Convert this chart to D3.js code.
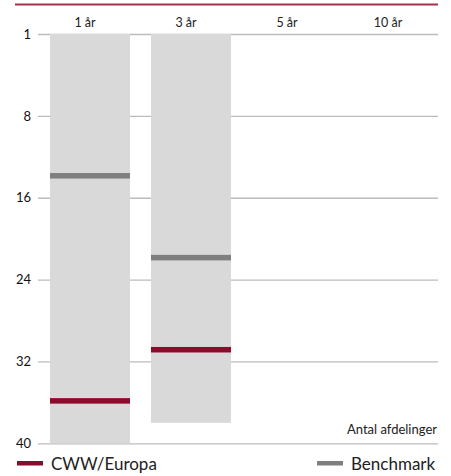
<!DOCTYPE html>
<html>
<head>
<meta charset="utf-8">
<script src="https://cdn.jsdelivr.net/npm/d3@7"></script>
<style>
  html, body { margin: 0; padding: 0; background: #fff; }
  svg { display: block; font-family: Lato, "Open Sans", sans-serif; }
</style>
</head>
<body>
<svg id="chart" width="451" height="476"></svg>
<script>
// Periods shown as columns
const periods = ["1 år", "3 år", "5 år", "10 år"];
// Number of funds in the peer group per period (bar length)
const fundCounts = [40, 38, null, null];
// Rank of CWW/Europa per period
const cwwRanks = [36, 31, null, null];
// Rank of the benchmark per period
const benchmarkRanks = [14, 22, null, null];
// Rank axis tick labels
const rankTicks = [1, 8, 16, 24, 32, 40];

const svg = d3.select("#chart");

const colors = {
  rule: "#a3304a",
  grid: "#bcbcbc",
  bar: "#d9d9d9",
  cww: "#8a0b2b",
  bench: "#7f7f7f",
  text: "#222"
};

// Rank 1 sits on the top edge, the rest of the scale runs evenly to 40
const y = d3.scaleLinear().domain([1, 8, 40]).range([34, 115.9, 443.3]);
const x = d3.scaleBand().domain(periods).range([50, 433]).paddingInner(0.208).paddingOuter(0);

// Top rule
svg.append("line")
  .attr("x1", 15).attr("x2", 438).attr("y1", 4.5).attr("y2", 4.5)
  .attr("stroke", colors.rule).attr("stroke-width", 2);

// Column headers
svg.append("g").selectAll("text").data(periods).join("text")
  .attr("x", d => x(d) + x.bandwidth() / 2 - 5)
  .attr("y", 27)
  .attr("text-anchor", "middle")
  .attr("font-size", 12.5)
  .attr("fill", colors.text)
  .text(d => d);

// Rank axis with gridlines
const axis = d3.axisLeft(y).tickValues(rankTicks).tickSize(0).tickPadding(0);
const gAxis = svg.append("g").attr("transform", "translate(38,0)").call(axis);
gAxis.select(".domain").remove();
gAxis.selectAll(".tick line")
  .attr("x1", 0).attr("x2", 400)
  .attr("stroke", colors.grid).attr("stroke-width", 1.3);
gAxis.selectAll(".tick text")
  .attr("x", -7)
  .attr("font-size", 13)
  .attr("font-family", "Lato, 'Open Sans', sans-serif")
  .attr("fill", "#111");

const rows = periods.map((p, i) => ({
  period: p, funds: fundCounts[i], cww: cwwRanks[i], bench: benchmarkRanks[i]
}));

// Peer-group bars
svg.append("g").selectAll("rect").data(rows.filter(d => d.funds != null)).join("rect")
  .attr("x", d => x(d.period))
  .attr("y", y(1))
  .attr("width", x.bandwidth())
  .attr("height", d => y(d.funds) - y(1))
  .attr("fill", colors.bar);

// Rank markers: a thick stripe whose lower edge sits just below the rank position
const markH = 5.5, markLift = 1.5;
svg.append("g").selectAll("rect").data(rows.filter(d => d.bench != null)).join("rect")
  .attr("x", d => x(d.period))
  .attr("y", d => y(d.bench) - markH / 2 - markLift)
  .attr("width", x.bandwidth())
  .attr("height", markH)
  .attr("fill", colors.bench);

svg.append("g").selectAll("rect").data(rows.filter(d => d.cww != null)).join("rect")
  .attr("x", d => x(d.period))
  .attr("y", d => y(d.cww) - markH / 2 - markLift)
  .attr("width", x.bandwidth())
  .attr("height", markH)
  .attr("fill", colors.cww);

// Axis caption
svg.append("text")
  .attr("x", 437).attr("y", 434)
  .attr("text-anchor", "end")
  .attr("font-size", 13)
  .attr("fill", colors.text)
  .text("Antal afdelinger");

// Legend
const legend = [
  { label: "CWW/Europa", color: colors.cww, x: 17 },
  { label: "Benchmark", color: colors.bench, x: 317 }
];
const lg = svg.append("g").selectAll("g").data(legend).join("g")
  .attr("transform", d => `translate(${d.x},463)`);
lg.append("rect")
  .attr("x", 0).attr("y", -2).attr("width", 26).attr("height", 4.5)
  .attr("fill", d => d.color);
lg.append("text")
  .attr("x", 34).attr("y", 6.5)
  .attr("font-size", 17)
  .attr("fill", colors.text)
  .text(d => d.label);
</script>
</body>
</html>
